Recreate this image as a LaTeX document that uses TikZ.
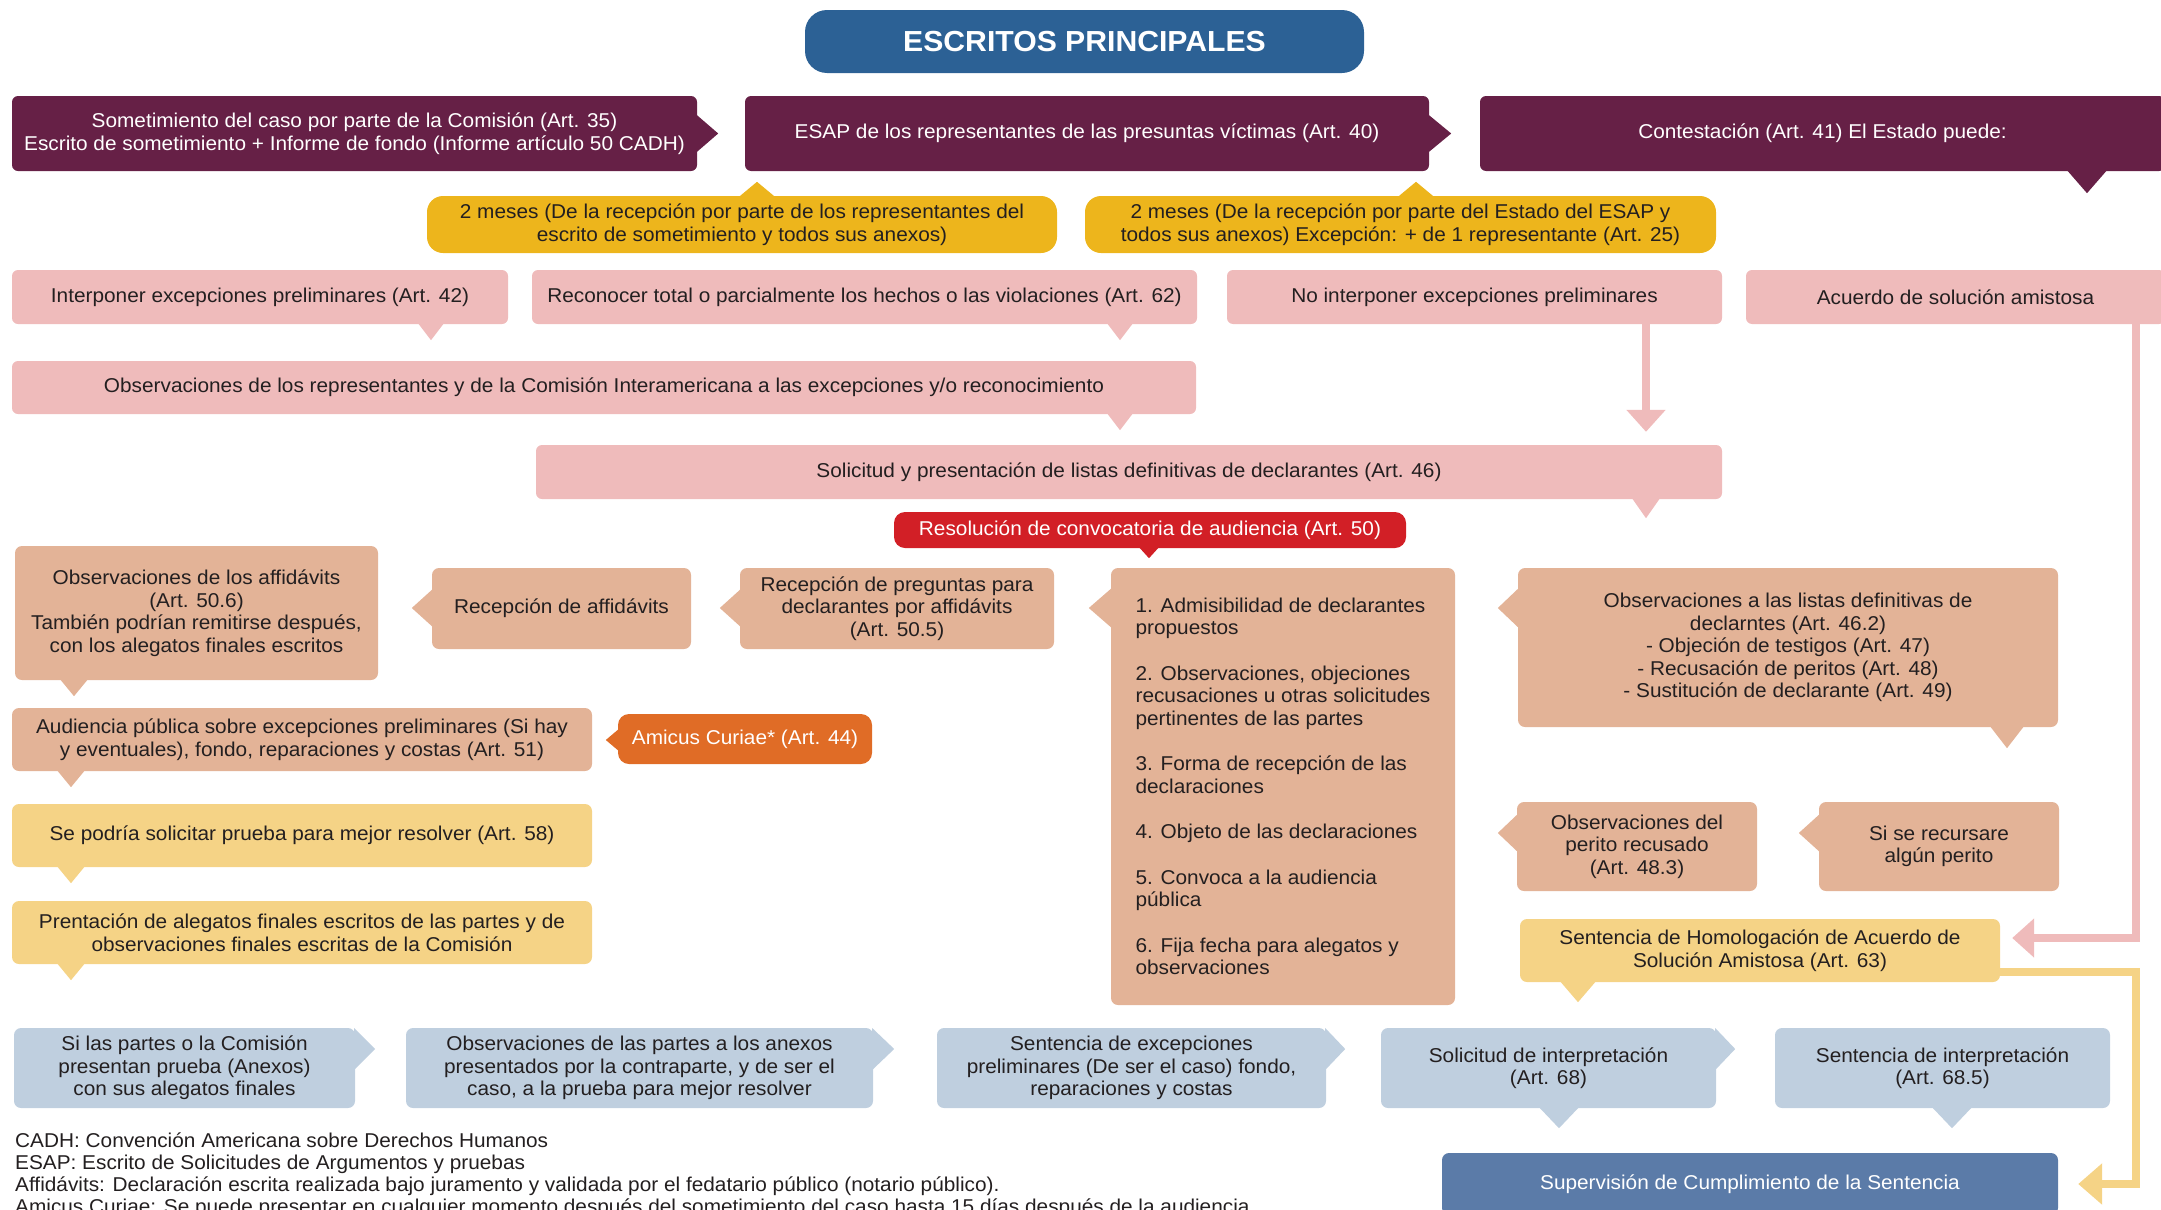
\documentclass[tikz,border=0pt]{standalone}
\usepackage{fontspec}
\setmainfont{Liberation Sans}[FakeStretch=1.04]
\usetikzlibrary{arrows.meta,calc}
\definecolor{titleblue}{HTML}{2C6195}
\definecolor{purp}{HTML}{662046}
\definecolor{gold}{HTML}{EDB51C}
\definecolor{pinkc}{HTML}{EFBBBB}
\definecolor{redc}{HTML}{D21F26}
\definecolor{tan}{HTML}{E3B397}
\definecolor{orangec}{HTML}{E06C26}
\definecolor{lyellow}{HTML}{F5D386}
\definecolor{greyblue}{HTML}{BFCFDF}
\definecolor{supblue}{HTML}{5B7BA8}
\definecolor{txt}{HTML}{231F20}
% tails: node, position, half-size, length, colour
\newcommand\tlS[5]{\fill[#5] (#2-#3,0 |- #1.south) ++(0,-1) -- ++(#3,#4+1) -- ++(#3,-#4-1) -- cycle;}
\newcommand\tlN[5]{\fill[#5] (#2-#3,0 |- #1.north) ++(0,1) -- ++(#3,-#4-1) -- ++(#3,#4+1) -- cycle;}
\newcommand\tlW[5]{\fill[#5] (#1.west |- 0,#2-#3) ++(1,0) -- ++(-#4-1,#3) -- ++(#4+1,#3) -- cycle;}
\newcommand\tlE[5]{\fill[#5] (#1.east |- 0,#2-#3) ++(-1,0) -- ++(#4+1,#3) -- ++(-#4-1,#3) -- cycle;}
\begin{document}
\begin{tikzpicture}[x=1pt,y=-1pt,
  every node/.style={inner sep=0pt, align=center, text=txt, font=\fontsize{20}{22.5}\selectfont},
  bx/.style 2 args={minimum width=#1pt, minimum height=#2pt},
  purpbox/.style={fill=purp, text=white, rounded corners=6pt},
  goldbox/.style={fill=gold, rounded corners=16pt},
  pinkbox/.style={fill=pinkc, rounded corners=6pt},
  tanbox/.style={fill=tan, rounded corners=7pt},
  lybox/.style={fill=lyellow, rounded corners=7pt},
  gbbox/.style={fill=greyblue, rounded corners=7pt},
  pinkarrow/.style={draw=pinkc, line width=8pt, line join=miter, -{Triangle[width=38pt,length=22pt]}},
  yelarrow/.style={draw=lyellow, line width=8pt, line join=miter, -{Triangle[width=40pt,length=24pt]}}]
\useasboundingbox (0,0) rectangle (2161,1210);
\clip (0,0) rectangle (2161,1210);

% title
\node[fill=titleblue, rounded corners=22pt, bx={559}{63}, text=white, font=\fontsize{29}{32}\selectfont\bfseries] (title) at (1084.5,41.5) {ESCRITOS PRINCIPALES};

% row 1
\node[purpbox, bx={685}{75}] (B1) at (354.5,133.5) {Sometimiento del caso por parte de la Comisión (Art. 35)\\Escrito de sometimiento + Informe de fondo (Informe artículo 50 CADH)};
\node[purpbox, bx={684}{75}] (B2) at (1087,133.5) {ESAP de los representantes de las presuntas víctimas (Art. 40)};
\node[purpbox, bx={685}{75}] (B3) at (1822.5,133.5) {Contestación (Art. 41) El Estado puede:};
\tlE{B1}{133.5}{19}{21}{purp}
\tlE{B2}{133.5}{19}{22}{purp}
\tlS{B3}{2087}{20}{22}{purp}

% 2 meses
\node[goldbox, bx={630}{57}] (Y1) at (742,224.5) {2 meses (De la recepción por parte de los representantes del\\escrito de sometimiento y todos sus anexos)};
\node[goldbox, bx={631}{57}] (Y2) at (1400.5,224.5) {2 meses (De la recepción por parte del Estado del ESAP y\\todos sus anexos) Excepción: + de 1 representante (Art. 25)};
\tlN{Y1}{757}{18}{14}{gold}
\tlN{Y2}{1416}{18}{14}{gold}

% pink row
\node[pinkbox, bx={496}{54}] (P1) at (260,297) {Interponer excepciones preliminares (Art. 42)};
\node[pinkbox, bx={665}{54}] (P2) at (864.5,297) {Reconocer total o parcialmente los hechos o las violaciones (Art. 62)};
\node[pinkbox, bx={495}{54}] (P3) at (1474.5,297) {No interponer excepciones preliminares};
\node[pinkbox, bx={419}{54}] (P4) at (1955.5,297) {Acuerdo de solución amistosa};
\tlS{P1}{431}{13}{16}{pinkc}
\tlS{P2}{1120}{13}{16}{pinkc}

\node[pinkbox, bx={1184}{53}] (O1) at (604,387.5) {Observaciones de los representantes y de la Comisión Interamericana a las excepciones y/o reconocimiento};
\tlS{O1}{1120}{13}{16}{pinkc}

\node[pinkbox, bx={1186}{54}] (S1) at (1129,472) {Solicitud y presentación de listas definitivas de declarantes (Art. 46)};
\tlS{S1}{1646}{14}{19}{pinkc}

\node[fill=redc, rounded corners=11pt, bx={512}{36}, text=white] (R1) at (1150,530) {Resolución de convocatoria de audiencia (Art. 50)};
\tlS{R1}{1149}{10}{10}{redc}

% tan row
\node[tanbox, bx={363}{134}] (T1) at (196.5,613) {Observaciones de los affidávits\\(Art. 50.6)\\También podrían remitirse después,\\con los alegatos finales escritos};
\tlS{T1}{74}{14}{16}{tan}
\node[tanbox, bx={259}{81}] (T2) at (561.5,608.5) {Recepción de affidávits};
\tlW{T2}{608}{19}{20}{tan}
\node[tanbox, bx={314}{81}] (T3) at (897,608.5) {Recepción de preguntas para\\declarantes por affidávits\\(Art. 50.5)};
\tlW{T3}{608}{19}{20}{tan}
\node[tanbox, bx={344}{437}, align=left] (T4) at (1283,786.5) {1. Admisibilidad de declarantes\\propuestos\\[23pt]2. Observaciones, objeciones\\recusaciones u otras solicitudes\\pertinentes de las partes\\[23pt]3. Forma de recepción de las\\declaraciones\\[23pt]4. Objeto de las declaraciones\\[23pt]5. Convoca a la audiencia\\pública\\[23pt]6. Fija fecha para alegatos y\\observaciones};
\tlW{T4}{608}{20}{22}{tan}
\node[tanbox, bx={540}{159}] (T5) at (1788,647.5) {Observaciones a las listas definitivas de\\declarntes (Art. 46.2)\\- Objeción de testigos (Art. 47)\\- Recusación de peritos (Art. 48)\\- Sustitución de declarante (Art. 49)};
\tlW{T5}{608}{20}{20}{tan}
\tlS{T5}{2007}{17}{21}{tan}
\node[tanbox, bx={240}{89}] (T6) at (1637,846.5) {Observaciones del\\perito recusado\\(Art. 48.3)};
\tlW{T6}{833}{19}{19}{tan}
\node[tanbox, bx={240}{89}] (T7) at (1939,846.5) {Si se recursare\\algún perito};
\tlW{T7}{833}{19}{20}{tan}

\node[lybox, bx={480}{63}] (H1) at (1760,950.5) {Sentencia de Homologación de Acuerdo de\\Solución Amistosa (Art. 63)};
\tlS{H1}{1578}{18}{20}{lyellow}

% left column
\node[tanbox, bx={580}{63}] (A1) at (302,739.5) {Audiencia pública sobre excepciones preliminares (Si hay\\y eventuales), fondo, reparaciones y costas (Art. 51)};
\tlS{A1}{71}{14}{16}{tan}
\node[fill=orangec, rounded corners=11pt, bx={254}{50}, text=white] (AC) at (745,739) {Amicus Curiae* (Art. 44)};
\tlW{AC}{740}{11}{12}{orangec}
\node[lybox, bx={580}{63}] (L1) at (302,835.5) {Se podría solicitar prueba para mejor resolver (Art. 58)};
\tlS{L1}{71}{14}{16}{lyellow}
\node[lybox, bx={580}{63}] (L2) at (302,932.5) {Prentación de alegatos finales escritos de las partes y de\\observaciones finales escritas de la Comisión};
\tlS{L2}{71}{14}{16}{lyellow}

% bottom row
\node[gbbox, bx={341}{80}] (G1) at (184.5,1068) {Si las partes o la Comisión\\presentan prueba (Anexos)\\con sus alegatos finales};
\tlE{G1}{1049}{21}{20}{greyblue}
\node[gbbox, bx={467}{80}] (G2) at (639.5,1068) {Observaciones de las partes a los anexos\\presentados por la contraparte, y de ser el\\caso, a la prueba para mejor resolver};
\tlE{G2}{1049}{21}{21}{greyblue}
\node[gbbox, bx={389}{80}] (G3) at (1131.5,1068) {Sentencia de excepciones\\preliminares (De ser el caso) fondo,\\reparaciones y costas};
\tlE{G3}{1049}{21}{19}{greyblue}
\node[gbbox, bx={335}{80}] (G4) at (1548.5,1068) {Solicitud de interpretación\\(Art. 68)};
\tlE{G4}{1049}{21}{19}{greyblue}
\tlS{G4}{1559}{20}{20}{greyblue}
\node[gbbox, bx={335}{80}] (G5) at (1942.5,1068) {Sentencia de interpretación\\(Art. 68.5)};
\tlS{G5}{1952}{20}{20}{greyblue}

\node[fill=supblue, rounded corners=7pt, bx={616}{62}, text=white] (SV) at (1750,1184) {Supervisión de Cumplimiento de la Sentencia};

% connectors
\draw[pinkarrow, shorten >=13pt] (P3.south -| 1646,0) -- (S1.north -| 1646,0);
\draw[pinkarrow, shorten >=12pt] (P4.south -| 2136,0) |- (H1.east |- 0,938);
\draw[yelarrow, shorten >=20pt] (H1.east |- 0,972) -| (2136,1184) -- (SV.east |- 0,1184);

% notes
\node[anchor=north west, align=left, font=\fontsize{20}{21.7}\selectfont] (notes) at (15,1133) {CADH: Convención Americana sobre Derechos Humanos\\ESAP: Escrito de Solicitudes de Argumentos y pruebas\\Affidávits: Declaración escrita realizada bajo juramento y validada por el fedatario público (notario público).\\Amicus Curiae: Se puede presentar en cualquier momento después del sometimiento del caso hasta 15 días después de la audiencia};
\end{tikzpicture}
\end{document}
